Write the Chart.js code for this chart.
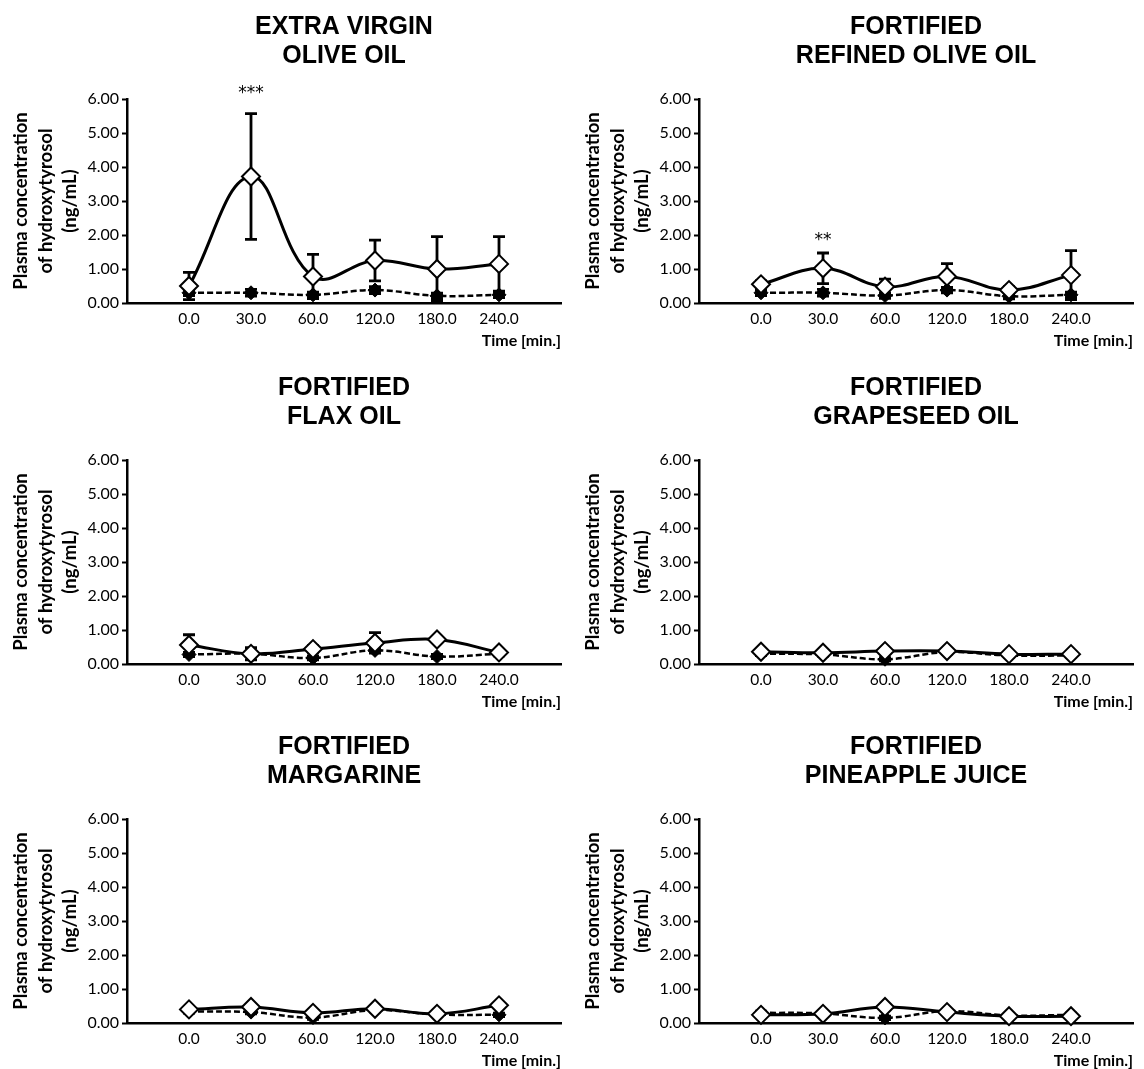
<!DOCTYPE html>
<html>
<head>
<meta charset="utf-8">
<script src="https://cdn.jsdelivr.net/npm/chart.js@4/dist/chart.umd.min.js"></script>
<style>
  body { margin: 0; background: #fff; overflow: hidden; }
  #wrap { position: relative; width: 1144px; height: 1069px; overflow: hidden; }
  #wrap canvas { position: absolute; }
</style>
</head>
<body>
<div id="wrap"></div>
<script>
// time points (x categories)
const timeLabels = ['0.0', '30.0', '60.0', '120.0', '180.0', '240.0'];
const yLabel = ['Plasma concentration', 'of hydroxytyrosol', '(ng/mL)'];

// extra virgin olive oil
const evooMean = [0.50, 3.72, 0.78, 1.25, 1.00, 1.15];
const evooErr  = [0.40, 1.85, 0.65, 0.60, 0.95, 0.80];
const evooCtrl = [0.30, 0.30, 0.24, 0.38, 0.21, 0.24];
const evooCtrlErr = [0.08, 0.10, 0.08, 0.10, 0.08, 0.08];

// fortified refined olive oil
const rooMean = [0.55, 1.02, 0.48, 0.78, 0.38, 0.82];
const rooErr  = [0.10, 0.45, 0.22, 0.38, 0.10, 0.72];
const rooCtrl = [0.30, 0.30, 0.22, 0.38, 0.20, 0.24];
const rooCtrlErr = [0.08, 0.10, 0.08, 0.08, 0.08, 0.08];

// fortified flax oil
const flaxMean = [0.56, 0.30, 0.44, 0.62, 0.72, 0.34];
const flaxErr  = [0.30, 0.18, 0.10, 0.30, 0.08, 0.08];
const flaxCtrl = [0.28, 0.30, 0.18, 0.40, 0.22, 0.30];
const flaxCtrlErr = [0.06, 0.06, 0.06, 0.06, 0.06, 0.06];

// fortified grapeseed oil
const grapeMean = [0.36, 0.33, 0.38, 0.38, 0.29, 0.29];
const grapeErr  = [0.06, 0.06, 0.06, 0.06, 0.06, 0.06];
const grapeCtrl = [0.30, 0.28, 0.14, 0.35, 0.25, 0.25];
const grapeCtrlErr = [0.05, 0.05, 0.05, 0.05, 0.05, 0.05];

// fortified margarine
const margMean = [0.40, 0.47, 0.30, 0.42, 0.27, 0.52];
const margErr  = [0.06, 0.06, 0.06, 0.06, 0.06, 0.06];
const margCtrl = [0.34, 0.32, 0.16, 0.38, 0.25, 0.24];
const margCtrlErr = [0.05, 0.05, 0.05, 0.05, 0.05, 0.05];

// fortified pineapple juice
const pineMean = [0.24, 0.27, 0.47, 0.32, 0.20, 0.20];
const pineErr  = [0.05, 0.05, 0.05, 0.05, 0.05, 0.05];
const pineCtrl = [0.30, 0.28, 0.15, 0.35, 0.22, 0.24];
const pineCtrlErr = [0.05, 0.05, 0.05, 0.05, 0.05, 0.05];

// significance marks: [label, time index, y value]
const evooSig = ['***', 1, 6.15];
const rooSig  = ['**', 1, 1.83];

const panels = [
  { title: ['EXTRA VIRGIN', 'OLIVE OIL'], mean: evooMean, err: evooErr, ctrl: evooCtrl, ctrlErr: evooCtrlErr, sig: evooSig },
  { title: ['FORTIFIED', 'REFINED OLIVE OIL'], mean: rooMean, err: rooErr, ctrl: rooCtrl, ctrlErr: rooCtrlErr, sig: rooSig },
  { title: ['FORTIFIED', 'FLAX OIL'], mean: flaxMean, err: flaxErr, ctrl: flaxCtrl, ctrlErr: flaxCtrlErr, sig: null },
  { title: ['FORTIFIED', 'GRAPESEED OIL'], mean: grapeMean, err: grapeErr, ctrl: grapeCtrl, ctrlErr: grapeCtrlErr, sig: null },
  { title: ['FORTIFIED', 'MARGARINE'], mean: margMean, err: margErr, ctrl: margCtrl, ctrlErr: margCtrlErr, sig: null },
  { title: ['FORTIFIED', 'PINEAPPLE JUICE'], mean: pineMean, err: pineErr, ctrl: pineCtrl, ctrlErr: pineCtrlErr, sig: null },
];
const rowTops = [0, 361, 720];

// error bars, titles and stars
const extras = {
  id: 'extras',
  beforeDatasetsDraw(chart, args, opts) {
    const ctx = chart.ctx;
    const xs = chart.scales.x, ys = chart.scales.y;
    ctx.save();
    ctx.strokeStyle = '#000';
    ctx.lineWidth = 2.8;
    opts.errors.forEach((errs, di) => {
      const vals = chart.data.datasets[di].data;
      vals.forEach((p, i) => {
        const x = xs.getPixelForValue(p.x);
        const hi = ys.getPixelForValue(p.y + errs[i]);
        const lo = ys.getPixelForValue(Math.max(0, p.y - errs[i]));
        ctx.beginPath();
        ctx.moveTo(x, hi); ctx.lineTo(x, lo);
        ctx.moveTo(x - 6, hi); ctx.lineTo(x + 6, hi);
        ctx.moveTo(x - 6, lo); ctx.lineTo(x + 6, lo);
        ctx.stroke();
      });
    });
    ctx.restore();
  },
  afterDraw(chart, args, opts) {
    const ctx = chart.ctx;
    const area = chart.chartArea;
    const cx = (area.left + area.right) / 2;
    ctx.save();
    ctx.fillStyle = '#000';
    ctx.textAlign = 'center';
    ctx.textBaseline = 'middle';
    ctx.font = 'bold 25px "Liberation Sans", Arial, sans-serif';
    ctx.fillText(opts.title[0], cx, 27);
    ctx.fillText(opts.title[1], cx, 56);
    if (opts.sig) {
      ctx.font = '17px "DejaVu Sans", sans-serif';
      const x = chart.scales.x.getPixelForValue(opts.sig[1]);
      const y = chart.scales.y.getPixelForValue(opts.sig[2]);
      ctx.fillText(opts.sig[0], x, y);
    }
    ctx.restore();
  }
};

const wrap = document.getElementById('wrap');
panels.forEach((p, k) => {
  const c = document.createElement('canvas');
  c.width = 572; c.height = 361;
  c.style.left = (k % 2) * 572 + 'px';
  c.style.top = rowTops[Math.floor(k / 2)] + 'px';
  wrap.appendChild(c);

  const meanPts = p.mean.map((v, i) => ({ x: i, y: v }));
  const ctrlPts = p.ctrl.map((v, i) => ({ x: i, y: v }));

  new Chart(c.getContext('2d'), {
    type: 'line',
    data: {
      datasets: [
        {
          label: 'fortified',
          data: meanPts,
          borderColor: '#000',
          borderWidth: 3,
          tension: 0.4,
          pointStyle: 'rectRot',
          pointRadius: 9,
          pointBorderWidth: 2,
          pointBackgroundColor: '#fff',
          pointBorderColor: '#000',
          order: 0,
          clip: false
        },
        {
          label: 'control',
          data: ctrlPts,
          borderColor: '#000',
          borderWidth: 2.5,
          borderDash: [6, 3],
          tension: 0.4,
          pointStyle: 'rectRot',
          pointRadius: 7,
          pointBorderWidth: 1,
          pointBackgroundColor: '#000',
          pointBorderColor: '#000',
          order: 1,
          clip: false
        }
      ]
    },
    options: {
      responsive: false,
      animation: false,
      devicePixelRatio: 1,
      layout: { padding: { top: 99, right: 1, left: 0, bottom: 0 } },
      plugins: {
        legend: { display: false },
        tooltip: { enabled: false },
        extras: { title: p.title, errors: [p.err, p.ctrlErr], sig: p.sig }
      },
      scales: {
        x: {
          type: 'linear',
          min: -1,
          max: 6,
          afterFit: (s) => { s.height = 58; },
          grid: { display: false, drawTicks: false },
          border: { color: '#000', width: 2.5 },
          ticks: {
            stepSize: 1,
            autoSkip: false,
            maxRotation: 0,
            padding: 7,
            color: '#000',
            font: { family: 'Lato', size: 15.5 },
            callback: (v) => timeLabels[v] || ''
          },
          title: {
            display: true,
            text: 'Time [min.]',
            align: 'end',
            color: '#000',
            font: { family: 'Lato', size: 16, weight: 'bold' },
            padding: { top: 0, bottom: 11 }
          }
        },
        y: {
          min: 0,
          max: 6,
          afterFit: (s) => { s.width = 127; },
          grid: { drawOnChartArea: false, drawTicks: true, tickLength: 5, tickColor: '#000', tickWidth: 2 },
          border: { color: '#000', width: 2.5 },
          ticks: {
            stepSize: 1,
            padding: 3,
            color: '#000',
            font: { family: 'Lato', size: 16 },
            callback: (v) => v.toFixed(2)
          },
          title: {
            display: true,
            text: yLabel,
            color: '#000',
            font: { family: 'Lato', size: 18.5, weight: 'bold', lineHeight: 1.32 },
            padding: { top: 9, bottom: 0 }
          }
        }
      }
    },
    plugins: [extras]
  });
});
</script>
</body>
</html>
